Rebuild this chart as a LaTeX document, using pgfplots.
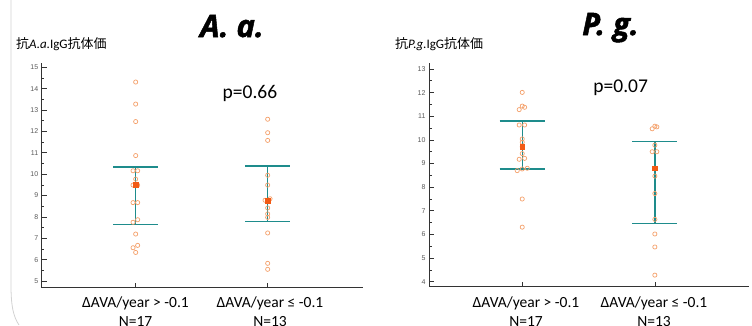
\documentclass[border=0pt]{standalone}
\usepackage{pgfplots}
\pgfplotsset{compat=1.18}
\usepackage{fontspec}
\setmainfont{Carlito}
\newfontfamily\cjk{Noto Sans CJK JP}
\newfontfamily\titlefont[BoldItalicFeatures={FakeBold=1.6}]{Open Sans}
\newfontfamily\tickfont{Liberation Sans}
\definecolor{teal2}{HTML}{1E8C8C}
\definecolor{circ}{HTML}{F4A06A}
\definecolor{meanc}{HTML}{F25A14}
\definecolor{axgray}{HTML}{333333}
\pgfplotsset{mystyle/.style={
  scale only axis, anchor=south west,
  axis x line=bottom, axis y line=left,
  axis line style={-, line width=0.9pt, axgray},
  tick align=inside, major tick length=5pt, minor tick length=2.5pt,
  tick style={axgray, line width=0.7pt},
  minor y tick num=1, xtick={1,2}, xticklabels={}, ytick distance=1,
  /pgf/number format/assume math mode=true,
  yticklabel style={font=\tickfont\fontsize{7}{8}\selectfont, text=gray!70!black},
  clip=false}}
\pgfplotstableread{
x y
1.0 14.31
1.0 13.28
1.0 12.46
1.0 10.87
0.98 10.16
1.015 10.16
1.0 9.77
0.98 9.49
1.015 9.49
0.98 8.67
1.015 8.67
1.015 7.87
0.98 7.75
1.0 7.20
1.015 6.67
0.98 6.56
1.0 6.34
2.0 12.57
2.0 11.94
2.0 11.58
2.0 9.95
2.0 9.49
2.018 8.85
1.98 8.78
2.0 8.42
2.0 8.14
2.0 7.98
2.0 7.25
2.0 5.83
2.0 5.55
}\aadata
\pgfplotstableread{
x y
1.0 12.01
1.0 11.43
1.018 11.38
0.977 11.28
0.977 10.63
1.018 10.63
1.0 10.04
1.0 9.90
1.0 9.71
1.0 9.42
1.018 9.22
0.977 9.18
1.038 8.80
1.0 8.77
0.962 8.70
1.0 7.50
1.0 6.31
2.0 10.58
2.015 10.55
1.98 10.47
2.0 9.78
1.98 9.50
2.015 9.50
2.0 8.80
2.0 8.47
2.0 7.73
2.0 6.64
2.0 6.02
2.0 5.47
2.0 4.28
}\pgdata
\begin{document}
\begin{tikzpicture}
\useasboundingbox (0,0) rectangle (752pt,-325pt);
\draw[gray!35, line width=0.8pt] (11pt,0) -- (11pt,-285pt) .. controls (11pt,-305pt) and (13pt,-316pt) .. (19pt,-325pt);
% left chart
\begin{axis}[mystyle, at={(41.7pt,-287.7pt)}, width=321pt, height=224.7pt,
  xmin=0.288, xmax=2.72, ymin=4.69, ymax=15.2]
\addplot[teal2, line width=1.3pt] coordinates {(1,7.64) (1,10.34)};
\addplot[teal2, line width=1.6pt] coordinates {(0.83,10.34) (1.17,10.34)};
\addplot[teal2, line width=1.6pt] coordinates {(0.83,7.64) (1.17,7.64)};
\addplot[teal2, line width=1.3pt] coordinates {(2,7.78) (2,10.37)};
\addplot[teal2, line width=1.6pt] coordinates {(1.83,10.37) (2.17,10.37)};
\addplot[teal2, line width=1.6pt] coordinates {(1.83,7.78) (2.17,7.78)};
\addplot[only marks, mark=o, mark size=2.1pt, circ, line width=0.7pt] table {\aadata};
\addplot[only marks, mark=square*, mark size=2.4pt, meanc] coordinates {(1,9.49) (2,8.76)};
\end{axis}
% right chart
\begin{axis}[mystyle, at={(429pt,-286.7pt)}, width=320pt, height=223.4pt,
  xmin=0.297, xmax=2.71, ymin=3.79, ymax=13.24]
\addplot[teal2, line width=1.3pt] coordinates {(1,8.78) (1,10.79)};
\addplot[teal2, line width=1.6pt] coordinates {(0.83,10.79) (1.17,10.79)};
\addplot[teal2, line width=1.6pt] coordinates {(0.83,8.78) (1.17,8.78)};
\addplot[teal2, line width=1.3pt] coordinates {(2,6.47) (2,9.93)};
\addplot[teal2, line width=1.6pt] coordinates {(1.83,9.93) (2.17,9.93)};
\addplot[teal2, line width=1.6pt] coordinates {(1.83,6.47) (2.17,6.47)};
\addplot[only marks, mark=o, mark size=2.1pt, circ, line width=0.7pt] table {\pgdata};
\addplot[only marks, mark=square*, mark size=2.4pt, meanc] coordinates {(1,9.71) (2,8.80)};
\end{axis}
% titles
\node[anchor=base, font=\titlefont\bfseries\itshape\fontsize{31}{34}\selectfont] at (232pt,-37pt) {A. a.};
\node[anchor=base, font=\titlefont\bfseries\itshape\fontsize{31}{34}\selectfont] at (610.5pt,-35pt) {P. g.};
\node[anchor=base west, inner sep=0pt, font=\fontsize{13}{15}\selectfont] at (16pt,-48pt) {{\cjk 抗}\textit{A.a.}IgG{\cjk 抗体価}};
\node[anchor=base west, inner sep=0pt, font=\fontsize{13}{15}\selectfont] at (395pt,-48pt) {{\cjk 抗}\textit{P.g.}IgG{\cjk 抗体価}};
\node[anchor=base, font=\fontsize{19.5}{22}\selectfont] at (250pt,-98pt) {p=0.66};
\node[anchor=base, font=\fontsize{19.5}{22}\selectfont] at (620.7pt,-92pt) {p=0.07};
% x labels
\foreach \cx/\txt/\n in {135.5/{ΔAVA/year > -0.1}/17, 270/{ΔAVA/year ≤ -0.1}/13, 526/{ΔAVA/year > -0.1}/17, 654/{ΔAVA/year ≤ -0.1}/13}{
  \node[anchor=base, font=\fontsize{15.5}{18}\selectfont] at (\cx pt,-307pt) {\txt};
  \node[anchor=base, font=\fontsize{15.5}{18}\selectfont] at (\cx pt,-326pt) {N=\n};
}
\end{tikzpicture}
\end{document}
